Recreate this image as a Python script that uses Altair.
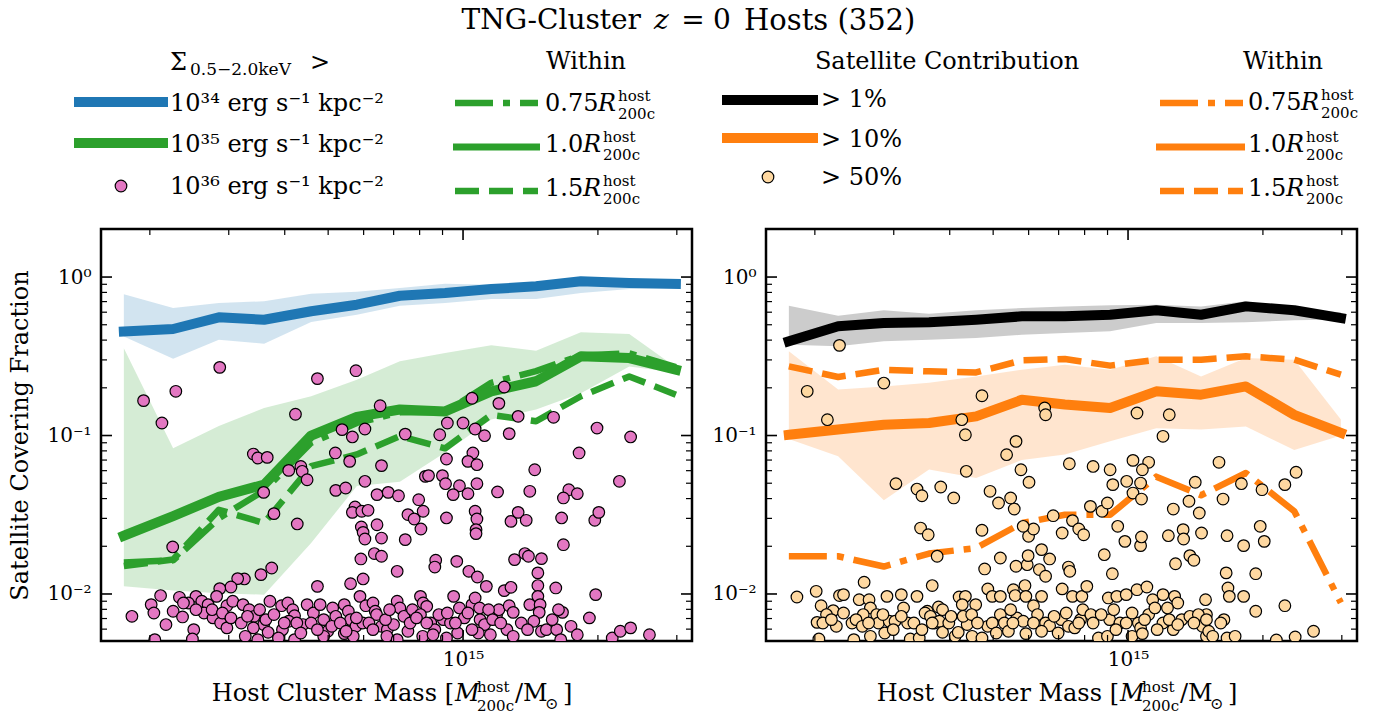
import altair as alt
import pandas as pd

FONT = "DejaVu Serif"
W, H = 591, 412
XDOM = [10 ** 14.192, 10 ** 15.511]
YDOM = [0.00505, 2.01]

# host mass bins, log10(M200c / Msun)
bin_logm = [14.243, 14.353, 14.455, 14.556, 14.661, 14.763, 14.859, 14.960,
            15.063, 15.163, 15.263, 15.371, 15.475]

# ---- left panel: surface-brightness thresholds ----
blue_med = [0.454, 0.470, 0.557, 0.538, 0.608, 0.669, 0.762, 0.793, 0.840, 0.874, 0.940, 0.916, 0.904]
blue_lo = [0.422, 0.305, 0.402, 0.380, 0.520, 0.578, 0.659, 0.686, 0.727, 0.727, 0.793, 0.840, 0.852]
blue_hi = [0.780, 0.637, 0.686, 0.703, 0.785, 0.808, 0.852, 0.908, 0.895, 0.916, 1.000, 0.962, 0.953]
green_med = [0.0233, 0.031, 0.041, 0.049, 0.100, 0.131, 0.146, 0.142, 0.190, 0.220, 0.316, 0.308, 0.260]
green_lo = [0.0112, 0.0105, 0.0101, 0.0099, 0.021, 0.048, 0.051, 0.078, 0.126, 0.146, 0.185, 0.273, 0.250]
green_hi = [0.356, 0.083, 0.115, 0.149, 0.177, 0.225, 0.294, 0.332, 0.371, 0.343, 0.448, 0.437, 0.270]
green_r075 = [0.0158, 0.0163, 0.030, 0.045, 0.090, 0.120, 0.140, 0.140, 0.215, 0.255, 0.320, 0.330, 0.270]
green_r150 = [0.0150, 0.0165, 0.034, 0.028, 0.064, 0.076, 0.099, 0.083, 0.135, 0.123, 0.177, 0.236, 0.181]

# individual hosts, 10^36 threshold: (log10 M, log10 covering fraction)
sat_left = [
    (14.457, -0.570), (14.287, -0.780), (14.359, -0.721), (14.675, -0.641), (14.761, -0.591),
    (14.626, -0.866), (14.815, -0.812), (15.020, -0.765), (15.092, -0.694), (15.080, -0.797),
    (15.123, -0.879), (15.202, -0.885), (14.965, -0.921), (15.000, -0.921), (14.328, -0.921),
    (14.532, -1.117), (14.542, -1.142), (14.563, -1.138), (14.730, -0.963), (14.753, -1.009),
    (14.781, -0.959), (14.715, -1.110), (14.747, -1.163), (14.818, -1.190), (14.871, -0.991),
    (14.948, -0.995), (15.027, -0.959), (15.048, -1.001), (15.103, -0.988), (15.299, -0.953),
    (15.374, -1.009), (14.963, -1.148), (15.022, -1.110), (15.011, -1.163), (15.031, -1.184),
    (15.259, -1.110), (15.160, -1.216), (15.349, -1.289),
    (14.611, -1.220), (14.638, -1.195), (14.641, -1.226), (14.652, -1.279), (14.716, -1.346),
    (14.738, -1.331), (14.781, -1.289), (14.555, -1.359), (14.808, -1.373), (14.833, -1.359),
    (14.856, -1.380), (14.901, -1.405), (14.916, -1.258), (14.923, -1.253), (14.954, -1.253),
    (14.961, -1.304), (14.992, -1.317), (14.978, -1.373), (15.011, -1.367), (15.031, -1.304),
    (15.077, -1.356), (15.149, -1.352), (15.236, -1.342), (15.255, -1.367), (15.224, -1.394),
    (14.759, -1.451), (14.753, -1.485), (14.774, -1.478), (14.788, -1.472), (14.877, -1.499),
    (14.891, -1.527), (14.911, -1.478), (14.906, -1.590), (14.963, -1.520), (15.027, -1.478),
    (15.031, -1.527), (15.029, -1.594), (15.029, -1.619), (15.107, -1.542), (15.123, -1.485),
    (15.141, -1.535), (15.220, -1.520), (15.294, -1.535), (15.303, -1.485), (14.578, -1.493),
    (14.630, -1.558), (14.773, -1.577), (14.777, -1.611), (14.781, -1.653), (14.808, -1.563),
    (14.818, -1.647), (14.871, -1.657), (15.224, -1.689), (14.352, -1.703),
    (14.772, -1.779), (14.802, -1.745), (14.818, -1.762), (14.853, -1.857), (14.939, -1.787),
    (14.937, -1.830), (14.986, -1.794), (15.013, -1.857), (15.032, -1.893), (15.115, -1.783),
    (15.138, -1.745), (15.146, -1.762), (15.175, -1.777), (15.167, -1.867), (15.167, -1.947),
    (15.052, -1.952), (15.092, -1.979), (15.107, -1.958), (15.207, -1.962), (15.296, -2.004),
    (14.777, -1.905), (14.749, -1.935), (14.675, -1.952), (14.573, -1.836), (14.549, -1.878),
    (14.512, -1.905), (14.497, -1.903), (14.482, -1.956), (14.457, -1.966), (14.325, -2.010),
    (14.367, -2.021), (14.404, -2.015), (14.450, -2.015),
    (14.261, -2.141), (14.304, -2.067), (14.310, -2.120), (14.337, -2.193), (14.312, -2.288),
    (14.353, -2.109), (14.374, -2.145), (14.387, -2.057), (14.417, -2.046), (14.431, -2.067),
    (14.422, -2.120), (14.442, -2.151), (14.459, -2.183), (14.473, -2.214), (14.399, -2.225),
    (14.396, -2.284), (14.473, -2.074), (14.486, -2.046), (14.509, -2.067), (14.523, -2.099),
    (14.534, -2.141), (14.555, -2.193), (14.565, -2.242), (14.569, -2.046), (14.595, -2.074),
    (14.609, -2.057), (14.620, -2.099), (14.624, -2.137), (14.611, -2.172), (14.597, -2.225),
    (14.588, -2.278), (14.624, -2.288), (14.643, -2.193), (14.652, -2.067), (14.666, -2.120),
    (14.681, -2.067), (14.689, -2.162), (14.698, -2.235), (14.709, -2.088), (14.716, -2.141),
    (14.735, -2.067), (14.744, -2.109), (14.749, -2.162), (14.761, -2.204), (14.776, -2.183),
    (14.770, -2.015), (14.783, -2.074), (14.799, -2.057), (14.804, -2.109), (14.807, -2.130),
    (14.818, -2.204), (14.831, -2.225), (14.845, -2.193), (14.853, -2.046), (14.859, -2.088),
    (14.868, -2.141), (14.877, -2.235), (14.887, -2.099), (14.905, -2.015), (14.911, -2.057),
    (14.919, -2.078), (14.905, -2.130), (14.928, -2.183), (14.937, -2.225), (14.956, -2.162),
    (14.963, -2.278), (14.972, -2.183), (14.979, -2.015), (14.992, -2.088), (15.003, -2.151),
    (15.020, -2.067), (15.027, -2.025), (15.037, -2.088), (15.038, -2.162), (15.048, -2.193),
    (15.061, -2.257), (15.075, -2.130), (15.080, -2.099), (15.103, -2.074), (15.112, -2.116),
    (15.098, -2.225), (15.112, -2.267), (15.149, -2.067), (15.167, -2.015), (15.172, -2.067),
    (15.170, -2.116), (15.158, -2.172), (15.175, -2.235), (15.186, -2.225), (15.209, -2.225),
    (15.218, -2.288), (15.222, -2.116), (15.241, -2.204), (15.255, -2.257), (15.282, -2.151),
    (15.333, -2.278), (15.351, -2.235), (15.374, -2.214), (15.416, -2.257), (14.532, -2.214),
    (14.514, -2.267), (14.542, -2.288), (14.689, -2.267), (14.735, -2.250), (14.755, -2.267),
    (14.830, -2.267), (14.853, -2.288), (14.910, -2.267), (14.933, -2.257), (14.988, -2.246),
    (15.034, -2.246),
    (14.376, -2.057), (14.404, -2.099), (14.440, -2.099), (14.463, -2.120), (14.482, -2.151),
    (14.505, -2.183), (14.519, -2.141), (14.546, -2.099), (14.560, -2.162), (14.578, -2.130),
    (14.601, -2.183), (14.629, -2.183), (14.638, -2.246), (14.661, -2.183), (14.675, -2.225),
    (14.707, -2.204), (14.726, -2.183), (14.739, -2.235), (14.762, -2.151), (14.790, -2.183),
    (14.799, -2.225), (14.827, -2.162), (14.836, -2.099), (14.882, -2.183), (14.896, -2.151),
    (14.919, -2.183), (14.946, -2.130), (14.965, -2.120), (14.983, -2.183), (15.011, -2.120),
    (15.020, -2.225), (15.057, -2.099), (15.066, -2.162), (15.084, -2.183), (15.130, -2.183),
    (15.144, -2.225), (15.199, -2.162), (15.213, -2.099),
]

# ---- right panel: satellite contribution ----
black_med = [0.393, 0.489, 0.513, 0.518, 0.538, 0.565, 0.565, 0.578, 0.617, 0.578, 0.653, 0.617, 0.551]
black_lo = [0.374, 0.366, 0.393, 0.402, 0.413, 0.432, 0.443, 0.455, 0.513, 0.513, 0.518, 0.533, 0.540]
black_hi = [0.659, 0.570, 0.617, 0.587, 0.617, 0.637, 0.653, 0.663, 0.669, 0.653, 0.703, 0.628, 0.600]
orange_med = [0.101, 0.109, 0.117, 0.120, 0.132, 0.168, 0.157, 0.149, 0.190, 0.181, 0.204, 0.135, 0.104]
orange_lo = [0.095, 0.074, 0.039, 0.061, 0.054, 0.070, 0.076, 0.092, 0.111, 0.109, 0.114, 0.081, 0.100]
orange_hi = [0.340, 0.195, 0.204, 0.215, 0.236, 0.260, 0.280, 0.260, 0.316, 0.236, 0.308, 0.301, 0.126]
orange_r075 = [0.0173, 0.0173, 0.0149, 0.018, 0.0195, 0.028, 0.0316, 0.0316, 0.055, 0.042, 0.058, 0.0333, 0.0088]
orange_r150 = [0.273, 0.234, 0.260, 0.254, 0.250, 0.298, 0.304, 0.276, 0.301, 0.301, 0.316, 0.301, 0.242]

# individual hosts, >50% satellite contribution: (log10 M, log10 covering fraction)
sat_right = [
    (14.356, -0.431), (14.284, -0.721), (14.455, -0.669), (14.674, -0.749), (14.814, -0.826),
    (14.816, -0.869), (15.020, -0.858), (15.092, -0.869), (14.329, -0.900), (14.629, -0.900),
    (14.637, -0.995), (14.750, -1.037), (14.729, -1.121), (14.761, -1.216), (14.779, -1.295),
    (14.639, -1.226), (14.482, -1.304), (14.529, -1.338), (14.540, -1.380), (14.582, -1.325),
    (14.611, -1.394), (14.692, -1.352), (14.711, -1.426), (14.738, -1.394), (14.746, -1.464),
    (14.869, -1.178), (14.922, -1.195), (14.960, -1.216), (14.966, -1.310), (14.997, -1.289),
    (15.011, -1.157), (15.046, -1.169), (15.032, -1.216), (15.028, -1.300), (15.011, -1.363),
    (15.030, -1.401), (15.101, -1.464), (15.136, -1.415), (15.150, -1.295), (15.203, -1.169),
    (15.212, -1.401), (15.253, -1.304), (15.299, -1.342), (15.350, -1.310), (15.375, -1.232),
    (15.078, -1.005),
    (14.916, -1.447), (14.942, -1.478), (14.954, -1.426), (14.977, -1.573), (14.876, -1.537),
    (14.890, -1.590), (14.901, -1.626), (14.853, -1.615), (14.833, -1.506), (14.807, -1.720),
    (14.825, -1.779), (14.778, -1.636), (14.789, -1.590), (14.766, -1.573), (14.674, -1.598),
    (14.537, -1.584), (14.554, -1.626), (14.574, -1.762), (14.715, -1.773), (14.750, -1.825),
    (14.775, -1.815), (14.777, -1.758), (14.802, -1.846), (14.816, -1.888), (14.867, -1.830),
    (14.870, -1.857), (14.947, -1.752), (14.965, -1.872), (14.993, -1.668), (15.028, -1.695),
    (15.030, -1.640), (15.090, -1.632), (15.106, -1.809), (15.123, -1.594), (15.124, -1.653),
    (15.138, -1.758), (15.147, -1.787), (15.159, -1.489), (15.164, -1.615), (15.221, -1.632),
    (15.258, -1.695), (15.295, -1.573), (15.304, -1.668), (15.219, -1.867), (15.285, -1.872),
    (14.680, -1.842),
    (14.411, -1.926), (14.563, -1.947), (14.304, -1.983), (14.261, -2.019), (14.315, -2.074),
    (14.342, -2.105), (14.356, -2.010), (14.365, -2.004), (14.400, -2.036), (14.422, -2.036),
    (14.425, -2.088), (14.439, -2.130), (14.462, -2.015), (14.494, -2.004), (14.499, -2.088),
    (14.529, -2.015), (14.552, -2.109), (14.577, -2.082), (14.623, -2.019), (14.637, -2.015),
    (14.660, -2.067), (14.630, -2.067), (14.687, -1.968), (14.697, -2.015), (14.715, -2.015),
    (14.744, -1.973), (14.748, -2.010), (14.770, -1.947), (14.772, -2.015), (14.789, -2.074),
    (14.807, -2.015), (14.853, -1.968), (14.876, -2.015), (14.897, -2.015), (14.908, -1.952),
    (14.956, -2.025), (14.975, -2.015), (14.996, -2.004), (15.020, -1.973), (15.042, -1.956),
    (15.055, -2.036), (15.078, -2.004), (15.104, -2.015), (15.111, -2.057), (15.173, -2.036),
    (15.223, -1.962), (15.226, -2.015), (15.258, -2.015), (15.175, -2.130), (15.214, -2.162),
    (15.285, -2.109), (15.350, -2.074), (15.414, -2.235), (15.373, -2.271), (15.331, -2.290),
    (15.230, -2.288), (15.175, -2.267),
    (14.306, -2.179), (14.310, -2.284), (14.327, -2.130), (14.349, -2.204), (14.384, -2.183),
    (14.388, -2.288), (14.409, -2.130), (14.425, -2.267), (14.443, -2.183), (14.457, -2.246),
    (14.467, -2.172), (14.480, -2.172), (14.508, -2.183), (14.514, -2.284), (14.534, -2.278),
    (14.547, -2.120), (14.559, -2.141), (14.568, -2.183), (14.579, -2.172), (14.586, -2.242),
    (14.600, -2.183), (14.614, -2.267), (14.621, -2.242), (14.641, -2.193), (14.652, -2.267),
    (14.674, -2.278), (14.687, -2.204), (14.715, -2.130), (14.724, -2.183), (14.733, -2.235),
    (14.752, -2.151), (14.766, -2.172), (14.772, -2.250), (14.798, -2.130), (14.816, -2.183),
    (14.825, -2.200), (14.844, -2.246), (14.851, -2.162), (14.867, -2.204), (14.881, -2.214),
    (14.894, -2.162), (14.899, -2.099), (14.917, -2.130), (14.934, -2.278), (14.954, -2.267),
    (14.959, -2.162), (14.968, -2.099), (14.982, -2.183), (14.996, -2.183), (15.009, -2.267),
    (15.023, -2.183), (15.028, -2.214), (15.032, -2.250), (15.046, -2.130), (15.060, -2.088),
    (15.078, -2.183), (15.088, -2.088), (15.101, -2.225), (15.120, -2.162), (15.138, -2.141),
    (15.157, -2.130), (15.166, -2.204), (15.180, -2.235), (15.189, -2.267), (15.207, -2.183),
    (15.221, -2.278), (15.239, -2.267),
    (14.319, -2.183), (14.338, -2.162), (14.365, -2.120), (14.393, -2.162), (14.407, -2.204),
    (14.421, -2.183), (14.453, -2.130), (14.476, -2.225), (14.494, -2.141), (14.522, -2.183),
    (14.540, -2.225), (14.563, -2.183), (14.586, -2.099), (14.605, -2.141), (14.632, -2.141),
    (14.651, -2.130), (14.664, -2.183), (14.697, -2.183), (14.706, -2.246), (14.738, -2.099),
    (14.743, -2.183), (14.789, -2.183), (14.807, -2.235), (14.835, -2.141), (14.862, -2.120),
    (14.890, -2.183), (14.922, -2.183), (14.940, -2.130), (14.973, -2.225), (15.009, -2.120),
    (15.037, -2.162), (15.065, -2.225), (15.092, -2.162), (15.111, -2.193), (15.147, -2.183),
    (15.175, -2.162),
]

# axis ticks
y_major = [0.01, 0.1, 1.0]
y_minor = [0.006, 0.007, 0.008, 0.009, 0.02, 0.03, 0.04, 0.05, 0.06, 0.07, 0.08, 0.09,
           0.2, 0.3, 0.4, 0.5, 0.6, 0.7, 0.8, 0.9, 2.0]
x_major = [1e15]
x_minor = [2e14, 3e14, 4e14, 5e14, 6e14, 7e14, 8e14, 9e14, 2e15, 3e15]

C_BLUE, C_GREEN, C_ORANGE, C_BLACK = "#1f77b4", "#2ca02c", "#ff7f0e", "#000000"
C_PINK, C_PEACH = "#e377c2", "#fed8a1"
DASH = [24, 10]
DASHDOT = [38, 10, 7, 10]
PT_SIZE = 135

xscale = alt.Scale(type="log", domain=XDOM, nice=False)
yscale = alt.Scale(type="log", domain=YDOM, nice=False)
xaxis = alt.Axis(values=x_major, labelExpr="'10¹⁵'", ticks=False, domain=False, grid=False,
                 labelFont=FONT, labelFontSize=20, labelColor="black", labelPadding=8)


def yaxis(left):
    return alt.Axis(values=y_major,
                    labelExpr="datum.value > 0.5 ? '10⁰' : (datum.value > 0.05 ? '10⁻¹' : '10⁻²')",
                    ticks=False, domain=False, grid=False, labelFont=FONT, labelFontSize=20,
                    labelColor="black", labelPadding=10, titleFont=FONT, titleFontSize=24,
                    titleFontWeight="normal", titleColor="black", titlePadding=14)


def X(f):
    return alt.X(f, type="quantitative", scale=xscale, axis=xaxis, title=None)


def Y(f, left):
    return alt.Y(f, type="quantitative", scale=yscale, axis=yaxis(left),
                 title="Satellite Covering Fraction" if left else None)


def frame_df(**cols):
    d = pd.DataFrame({"logm": bin_logm, **cols})
    d["M"] = 10 ** d["logm"]
    return d


def band(lo, hi, color, left):
    return alt.Chart(frame_df(lo=lo, hi=hi)).mark_area(color=color, opacity=0.2, clip=True).encode(
        x=X("M"), y=Y("lo", left), y2="hi")


def line(vals, color, width, left, dash=None):
    kw = dict(color=color, strokeWidth=width, clip=True, strokeJoin="round")
    if dash is None:
        kw["strokeCap"] = "square"
    else:
        kw["strokeDash"] = dash
        kw["strokeCap"] = "butt"
    return alt.Chart(frame_df(v=vals)).mark_line(**kw).encode(x=X("M"), y=Y("v", left))


def scatter(pairs, color, left):
    d = pd.DataFrame(pairs, columns=["logm", "logf"])
    d["M"] = 10 ** d["logm"]
    d["f"] = 10 ** d["logf"]
    return alt.Chart(d).mark_point(shape="circle", filled=True, fill=color, stroke="black",
                                   strokeWidth=1.2, size=PT_SIZE, opacity=1, fillOpacity=1,
                                   clip=True).encode(x=X("M"), y=Y("f", left))


def ticks(left):
    out = []
    for vals, L, sw in ((y_major, 11, 1.6), (y_minor, 6, 1.2)):
        d = pd.DataFrame({"v": vals})
        for a, b in ((0, L), (W - L, W)):
            out.append(alt.Chart(d).mark_rule(color="black", strokeWidth=sw).encode(
                y=Y("v", left), x=alt.value(a), x2=alt.value(b)))
    for vals, L, sw in ((x_major, 11, 1.6), (x_minor, 6, 1.2)):
        d = pd.DataFrame({"v": vals})
        for a, b in ((H, H - L), (0, L)):
            out.append(alt.Chart(d).mark_rule(color="black", strokeWidth=sw).encode(
                x=X("v"), y=alt.value(a), y2=alt.value(b)))
    return out


ONE = pd.DataFrame({"k": [0]})


def txt(s, x, y, size=24, align="left", baseline="middle", style="normal"):
    return alt.Chart(ONE).mark_text(text=s, align=align, baseline=baseline, fontSize=size,
                                    fontStyle=style, font=FONT, color="black").encode(
        x=alt.value(x), y=alt.value(y))


def lrule(x1, x2, y, color, width, dash=None):
    kw = dict(color=color, strokeWidth=width, strokeCap="butt")
    if dash is not None:
        kw["strokeDash"] = dash
    return alt.Chart(ONE).mark_rule(**kw).encode(x=alt.value(x1), x2=alt.value(x2), y=alt.value(y))


def ldot(x, y, color):
    return alt.Chart(ONE).mark_point(shape="circle", filled=True, fill=color, stroke="black",
                                     strokeWidth=1.2, size=PT_SIZE, opacity=1, fillOpacity=1).encode(
        x=alt.value(x), y=alt.value(y))


def rlabel(num, x, y):
    w = {"0.75": 53, "1.0": 38, "1.5": 38}[num]
    return [txt(num, x, y), txt("R", x + w, y, style="italic"),
            txt("host", x + w + 20, y - 8, size=15), txt("200c", x + w + 20, y + 10, size=15)]


def xtitle():
    b = 472
    return [txt("Host Cluster Mass [", 353, b, baseline="alphabetic", align="right"),
            txt("M", 354, b, baseline="alphabetic", style="italic"),
            txt("host", 376, b - 9, size=15, baseline="alphabetic"),
            txt("200c", 376, b + 10, size=15, baseline="alphabetic"),
            txt("/M", 414, b, baseline="alphabetic"),
            txt("⊙", 444, b + 8, size=16, baseline="alphabetic"),
            txt("]", 462, b, baseline="alphabetic")]


# ---------- left panel ----------
left_layers = [
    band(blue_lo, blue_hi, C_BLUE, True),
    band(green_lo, green_hi, C_GREEN, True),
    line(blue_med, C_BLUE, 10, True),
    line(green_r075, C_GREEN, 6.5, True, DASHDOT),
    line(green_r150, C_GREEN, 6.5, True, DASH),
    line(green_med, C_GREEN, 10, True),
    scatter(sat_left, C_PINK, True),
] + ticks(True) + xtitle() + [
    # title
    txt("TNG-Cluster", 540, -208, size=28, align="right"),
    txt("z", 553, -208, size=28, style="italic"),
    txt("=", 592, -208, size=28, align="center"),
    txt("0", 612, -208, size=28),
    txt("Hosts (352)", 643, -208, size=29),
    # legend: thresholds
    txt("Σ", 69, -166),
    txt("0.5−2.0keV", 89, -159, size=17),
    txt(">", 209, -166),
    lrule(-27, 67, -127, C_BLUE, 10),
    lrule(-27, 67, -86, C_GREEN, 10),
    ldot(20, -43, C_PINK),
    txt("10³⁴ erg s⁻¹ kpc⁻²", 69, -125),
    txt("10³⁵ erg s⁻¹ kpc⁻²", 69, -84),
    txt("10³⁶ erg s⁻¹ kpc⁻²", 69, -42),
    # legend: radii
    txt("Within", 485, -167, align="center"),
    lrule(354, 437, -126, C_GREEN, 6.5, DASHDOT),
    lrule(352, 439, -82, C_GREEN, 7),
    lrule(354, 437, -38, C_GREEN, 6.5, DASH),
] + rlabel("0.75", 444, -125) + rlabel("1.0", 444, -84) + rlabel("1.5", 444, -40)

left = alt.layer(*left_layers).properties(width=W, height=H)

# ---------- right panel ----------
right_layers = [
    band(black_lo, black_hi, C_BLACK, False),
    band(orange_lo, orange_hi, C_ORANGE, False),
    line(black_med, C_BLACK, 10, False),
    line(orange_r075, C_ORANGE, 6.5, False, DASHDOT),
    line(orange_r150, C_ORANGE, 6.5, False, DASH),
    line(orange_med, C_ORANGE, 10, False),
    scatter(sat_right, C_PEACH, False),
] + ticks(False) + xtitle() + [
    txt("Satellite Contribution", 181, -167, align="center"),
    lrule(-44, 52, -129, C_BLACK, 10),
    lrule(-44, 52, -91, C_ORANGE, 10),
    ldot(2, -52, C_PEACH),
    txt("> 1%", 55, -129),
    txt("> 10%", 55, -89),
    txt("> 50%", 55, -51),
    txt("Within", 517, -167, align="center"),
    lrule(394, 477, -126, C_ORANGE, 6.5, DASHDOT),
    lrule(390, 479, -82, C_ORANGE, 7),
    lrule(394, 477, -38, C_ORANGE, 6.5, DASH),
] + rlabel("0.75", 482, -126) + rlabel("1.0", 482, -84) + rlabel("1.5", 482, -40)

right = alt.layer(*right_layers).properties(width=W, height=H)

chart = alt.hconcat(left, right, spacing=74, bounds="flush").properties(
    padding={"left": 7, "top": 5, "right": 5, "bottom": 5},
    background="white",
).configure_view(stroke="black", strokeWidth=2.5)

chart.save("out.html", embed_options={"renderer": "svg", "actions": False})
